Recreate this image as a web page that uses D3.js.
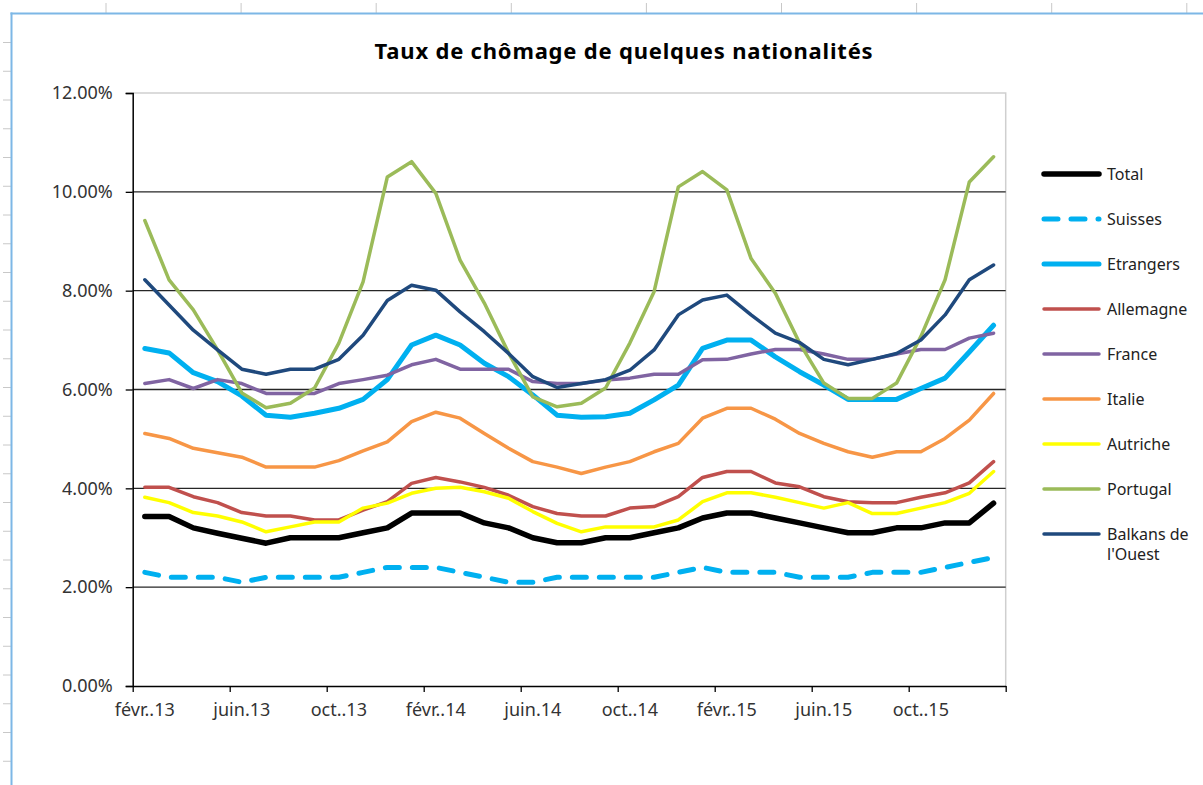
<!DOCTYPE html>
<html>
<head>
<meta charset="utf-8">
<script src="https://cdn.jsdelivr.net/npm/d3@7"></script>
<style>
  html, body { margin: 0; padding: 0; background: #fff; }
  svg { display: block; font-family: "Noto Sans", "Open Sans", sans-serif; }
</style>
</head>
<body>
<svg id="chart" width="1203" height="785"></svg>
<script>
// ---------------- DATA ----------------
const months = [
  "2013-02","2013-03","2013-04","2013-05","2013-06","2013-07","2013-08","2013-09","2013-10","2013-11","2013-12",
  "2014-01","2014-02","2014-03","2014-04","2014-05","2014-06","2014-07","2014-08","2014-09","2014-10","2014-11","2014-12",
  "2015-01","2015-02","2015-03","2015-04","2015-05","2015-06","2015-07","2015-08","2015-09","2015-10","2015-11","2015-12",
  "2016-01"
];
const tickLabels = ["févr..13","juin.13","oct..13","févr..14","juin.14","oct..14","févr..15","juin.15","oct..15"];
const yTicks = [0, 2, 4, 6, 8, 10, 12];

const seriesNames = ["Total","Suisses","Etrangers","Allemagne","France","Italie","Autriche","Portugal","Balkans de l'Ouest"];

const total     = [3.43,3.43,3.20,3.09,2.99,2.89,3.00,3.00,3.00,3.10,3.20,3.50,3.50,3.50,3.30,3.20,3.00,2.90,2.90,3.00,3.00,3.10,3.20,3.40,3.50,3.50,3.40,3.30,3.20,3.10,3.10,3.20,3.20,3.30,3.30,3.70];
const suisses   = [2.30,2.20,2.20,2.20,2.10,2.20,2.20,2.20,2.20,2.30,2.40,2.40,2.40,2.30,2.20,2.10,2.10,2.20,2.20,2.20,2.20,2.20,2.30,2.40,2.30,2.30,2.30,2.20,2.20,2.20,2.30,2.30,2.30,2.40,2.50,2.60];
const etrangers = [6.83,6.74,6.34,6.16,5.87,5.48,5.44,5.52,5.62,5.80,6.20,6.90,7.10,6.90,6.53,6.26,5.89,5.48,5.44,5.45,5.52,5.79,6.09,6.83,7.00,7.00,6.66,6.36,6.09,5.80,5.80,5.80,6.02,6.23,6.76,7.30];
const allemagne = [4.02,4.02,3.83,3.71,3.51,3.44,3.44,3.36,3.36,3.56,3.73,4.10,4.22,4.13,4.02,3.86,3.63,3.49,3.44,3.44,3.60,3.63,3.83,4.22,4.34,4.34,4.11,4.03,3.83,3.73,3.71,3.71,3.82,3.91,4.11,4.54];
const france    = [6.12,6.20,6.02,6.20,6.12,5.92,5.92,5.92,6.12,6.20,6.29,6.50,6.61,6.41,6.41,6.41,6.16,6.12,6.12,6.19,6.23,6.31,6.31,6.60,6.61,6.72,6.81,6.81,6.72,6.61,6.61,6.72,6.81,6.81,7.04,7.14];
const italie    = [5.11,5.01,4.81,4.72,4.63,4.43,4.43,4.43,4.56,4.76,4.94,5.35,5.54,5.42,5.11,4.81,4.54,4.43,4.30,4.43,4.54,4.74,4.91,5.42,5.62,5.62,5.40,5.11,4.91,4.74,4.63,4.74,4.74,5.01,5.38,5.92];
const autriche  = [3.82,3.71,3.51,3.44,3.32,3.12,3.22,3.32,3.32,3.60,3.70,3.90,4.00,4.02,3.93,3.80,3.53,3.29,3.12,3.22,3.22,3.22,3.36,3.73,3.91,3.91,3.82,3.71,3.60,3.71,3.49,3.49,3.60,3.71,3.90,4.34];
const portugal  = [9.42,8.22,7.61,6.80,5.93,5.63,5.72,6.03,6.94,8.18,10.30,10.61,9.97,8.62,7.75,6.74,5.85,5.65,5.72,6.03,6.94,7.98,10.10,10.41,10.04,8.65,7.95,6.94,6.13,5.82,5.82,6.13,7.07,8.22,10.20,10.71];
const balkans   = [8.22,7.71,7.20,6.80,6.41,6.31,6.41,6.41,6.61,7.10,7.80,8.11,8.01,7.57,7.17,6.73,6.26,6.04,6.12,6.20,6.39,6.80,7.51,7.81,7.91,7.51,7.14,6.95,6.61,6.50,6.61,6.73,7.00,7.51,8.22,8.52];

const seriesValues = [total, suisses, etrangers, allemagne, france, italie, autriche, portugal, balkans];

// ---------------- STYLE ----------------
const colors  = ["#000000","#00B0F0","#00B0F0","#C0504D","#8064A2","#F79646","#FFFF00","#9BBB59","#1F497D"];
const widths  = [5.5, 5, 5, 3.5, 3.5, 3.5, 3.5, 3.5, 3.5];
const dashes  = [null, "14,13", null, null, null, null, null, null, null];

const plot = { left: 132.7, right: 1005.7, top: 93, bottom: 686 };

const svg = d3.select("#chart");

// spreadsheet frame decoration
const frameColor = "#7DB7E6";
svg.append("g").selectAll("line").data(d3.range(0, 9)).join("line")
  .attr("x1", k => 106 + 135.1 * k).attr("x2", k => 106 + 135.1 * k)
  .attr("y1", 3).attr("y2", 13).attr("stroke", "#c8c8c8").attr("stroke-width", 1);
svg.append("g").selectAll("line").data(d3.range(0, 26)).join("line")
  .attr("y1", k => 42.5 + 28.75 * k).attr("y2", k => 42.5 + 28.75 * k)
  .attr("x1", 3).attr("x2", 11).attr("stroke", "#c8c8c8").attr("stroke-width", 1);
svg.append("line").attr("x1", 10.5).attr("x2", 1203).attr("y1", 13.5).attr("y2", 13.5)
  .attr("stroke", frameColor).attr("stroke-width", 2);
svg.append("line").attr("x1", 11.5).attr("x2", 11.5).attr("y1", 12.5).attr("y2", 785)
  .attr("stroke", frameColor).attr("stroke-width", 2);

// scales
const x = d3.scaleLinear().domain([0, months.length]).range([plot.left, plot.right]);
const y = d3.scaleLinear().domain([0, 12]).range([plot.bottom, plot.top]);

// title
svg.append("text")
  .attr("x", 624).attr("y", 59)
  .attr("text-anchor", "middle")
  .attr("font-size", 22).attr("font-weight", "bold").attr("fill", "#000")
  .attr("letter-spacing", 0.8)
  .text("Taux de chômage de quelques nationalités");

// plot border (top & right, light grey)
svg.append("path")
  .attr("d", `M${plot.left},${y(12)}H${plot.right}V${plot.bottom}`)
  .attr("fill", "none").attr("stroke", "#cfcfcf").attr("stroke-width", 1.5);

// gridlines
svg.append("g").selectAll("line").data(yTicks.filter(v => v > 0 && v < 12)).join("line")
  .attr("x1", plot.left).attr("x2", plot.right)
  .attr("y1", d => y(d)).attr("y2", d => y(d))
  .attr("stroke", "#262626").attr("stroke-width", 1.3);

// y axis
const yAxis = svg.append("g").attr("transform", `translate(${plot.left},0)`)
  .call(d3.axisLeft(y).tickValues(yTicks).tickSize(7).tickPadding(13)
    .tickFormat(d => d.toFixed(2) + "%"));
yAxis.select(".domain").attr("stroke", "#000").attr("stroke-width", 1.5);
yAxis.selectAll(".tick line").attr("stroke", "#000").attr("stroke-width", 1.3);
yAxis.selectAll("text").attr("font-size", 18).attr("fill", "#333")
  .attr("font-family", "'Noto Sans', sans-serif");

// x axis
const xAxis = svg.append("g").attr("transform", `translate(0,${plot.bottom})`)
  .call(d3.axisBottom(x).tickValues(d3.range(0, months.length + 1, 4)).tickSize(6).tickSizeOuter(0).tickFormat(""));
xAxis.select(".domain").attr("stroke", "#000").attr("stroke-width", 1.5);
xAxis.selectAll(".tick line").attr("stroke", "#000").attr("stroke-width", 1.3);

svg.append("g").selectAll("text").data(tickLabels).join("text")
  .attr("x", (d, i) => x(i * 4 + 0.5))
  .attr("y", plot.bottom + 30)
  .attr("text-anchor", "middle")
  .attr("font-size", 18).attr("fill", "#333")
  .text(d => d);

// lines
const line = d3.line().x((d, i) => x(i + 0.5)).y(d => y(d));
svg.append("g").selectAll("path").data(seriesValues).join("path")
  .attr("d", d => line(d))
  .attr("fill", "none")
  .attr("stroke", (d, i) => colors[i])
  .attr("stroke-width", (d, i) => widths[i])
  .attr("stroke-dasharray", (d, i) => dashes[i])
  .attr("stroke-linejoin", "round")
  .attr("stroke-linecap", "round");

// legend
const legend = svg.append("g").attr("transform", "translate(1044,174)");
const item = legend.selectAll("g").data(seriesNames).join("g")
  .attr("transform", (d, i) => `translate(0,${i * 45})`);
item.append("line")
  .attr("x1", 0).attr("x2", 55).attr("y1", 0).attr("y2", 0)
  .attr("stroke", (d, i) => colors[i])
  .attr("stroke-width", (d, i) => widths[i])
  .attr("stroke-dasharray", (d, i) => dashes[i])
  .attr("stroke-linecap", "round");
item.append("text")
  .attr("x", 63).attr("y", 0).attr("dy", "0.35em")
  .attr("font-size", 16).attr("fill", "#222")
  .each(function(d) {
    const t = d3.select(this);
    const parts = d === "Balkans de l'Ouest" ? ["Balkans de", "l'Ouest"] : [d];
    parts.forEach((p, k) => t.append("tspan").attr("x", 63).attr("dy", k === 0 ? "0.35em" : "1.3em").text(p));
  });
</script>
</body>
</html>
